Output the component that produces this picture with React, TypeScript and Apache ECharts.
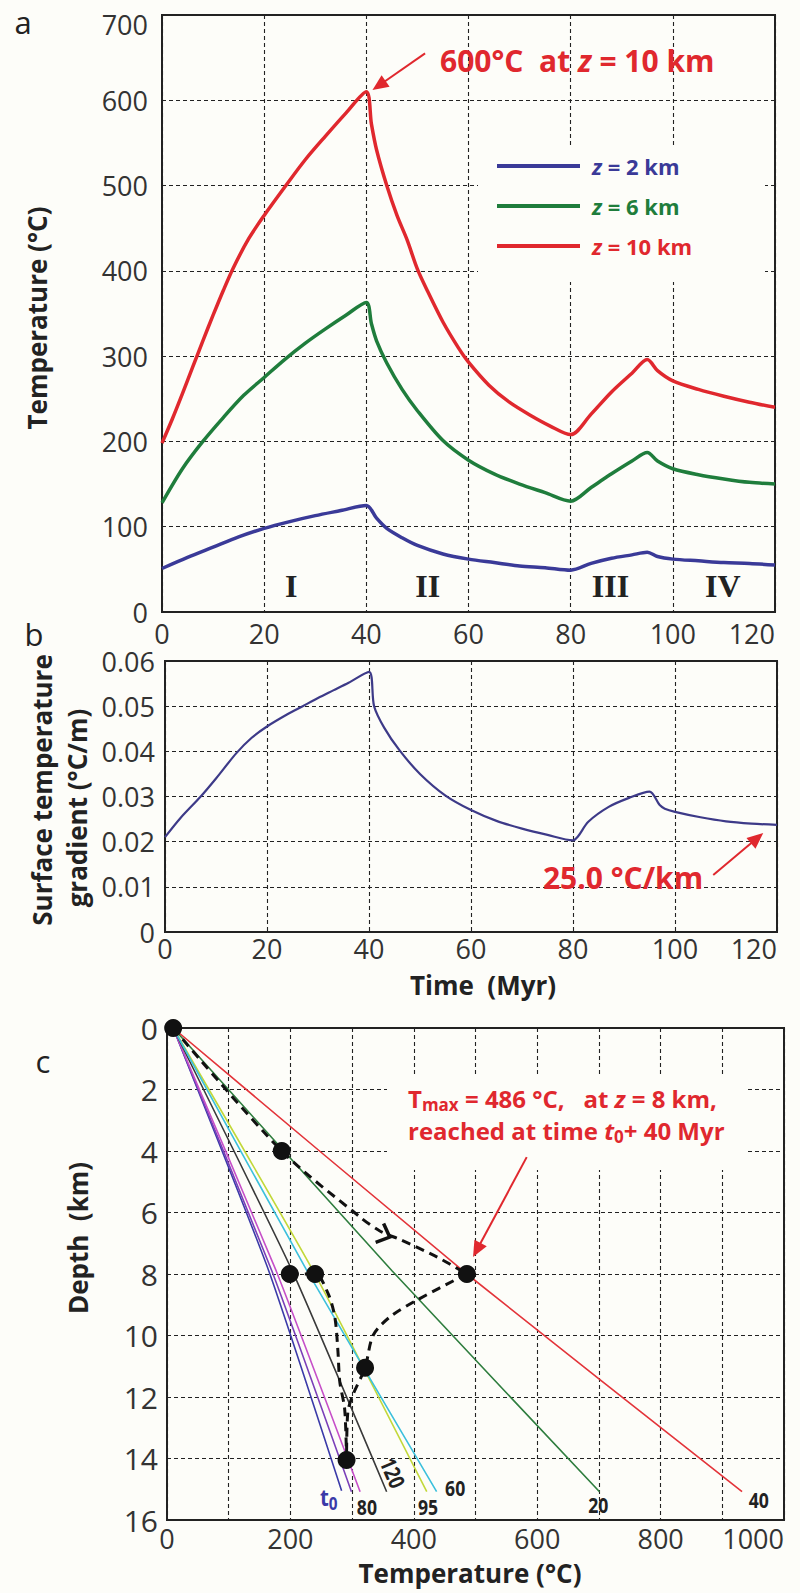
import React, { useEffect, useRef } from 'react';
import * as echarts from 'echarts';

const FONT = '"Open Sans", "Noto Sans", sans-serif';
const BG = '#fdfdf9';
const INK = '#222';
const RED = '#e0282e';
const GREEN = '#1f7d3c';
const BLUE = '#3a3a98';

// ---------- Panel a: temperature vs time ----------
const tempZ10: [number, number][] = [
  [0, 198], [2, 226], [4, 256], [6, 287], [8, 318], [10, 348], [12, 377], [14, 404], [17, 438], [20, 465],
  [24, 498], [28, 530], [32, 558], [36, 585], [40, 610], [41, 572], [42, 542], [44, 500], [46, 465], [48, 436],
  [50, 402], [52, 376], [55, 340], [58, 310], [60, 293], [64, 266], [68, 246], [72, 231], [76, 218], [80, 208],
  [84, 232], [88, 258], [92, 280], [95, 296], [97, 283], [100, 271], [105, 261], [110, 253], [115, 246], [120, 240],
];
const tempZ6: [number, number][] = [
  [0, 128], [4, 168], [8, 200], [12, 228], [16, 254], [20, 275], [24, 296], [28, 315], [32, 332], [36, 348],
  [40, 363], [41, 338], [42, 318], [44, 292], [47, 261], [50, 236], [55, 201], [60, 178], [65, 162], [70, 150],
  [75, 140], [80, 130], [84, 146], [88, 162], [92, 177], [95, 187], [97, 177], [100, 168], [105, 161], [110, 156],
  [115, 152], [120, 150],
];
const tempZ2: [number, number][] = [
  [0, 51], [5, 64], [10, 76], [15, 88], [20, 98], [25, 106], [30, 113], [35, 119], [40, 125], [42, 110],
  [44, 98], [47, 87], [50, 78], [55, 68], [60, 62], [65, 58], [70, 54], [75, 52], [80, 49], [84, 57],
  [88, 63], [92, 67], [95, 70], [97, 65], [100, 62], [105, 60], [110, 58], [115, 57], [120, 55],
];
const romanLabels = ['I', 'II', 'III', 'IV'];
const romanTimes = [25.3, 52, 87.8, 109.8];
const romanTemp = 31;

// ---------- Panel b: surface temperature gradient ----------
const gradient: [number, number][] = [
  [0, 0.021], [3, 0.0252], [7, 0.0300], [10, 0.0340], [14, 0.0396], [17, 0.0430], [20, 0.0455], [24, 0.0482],
  [27, 0.0500], [30, 0.0518], [33, 0.0535], [36, 0.0552], [40, 0.0576], [41, 0.0500], [43, 0.0452], [46, 0.0402],
  [50, 0.0350], [55, 0.0302], [60, 0.0270], [65, 0.0246], [70, 0.0229], [75, 0.0215], [80, 0.0203], [81, 0.0212],
  [83, 0.0244], [87, 0.0277], [91, 0.0297], [95, 0.0311], [97, 0.0281], [98, 0.0273], [100, 0.0266], [105, 0.0254],
  [110, 0.0245], [115, 0.0240], [120, 0.0237],
];

// ---------- Panel c: geotherms (temperature, depth) ----------
const geoT0: [number, number][] = [[10, 0], [165, 7.9], [283, 15.05]];
const geo100: [number, number][] = [[10, 0], [170, 7.9], [299, 15.08]];
const geo80: [number, number][] = [[10, 0], [177, 7.9], [313, 15.08]];
const geo120: [number, number][] = [[10, 0], [203, 7.9], [356, 15.08]];
const geo95: [number, number][] = [[10, 0], [237, 7.9], [421, 15.08]];
const geo60: [number, number][] = [[10, 0], [227, 7.9], [437, 15.08]];
const geo20: [number, number][] = [[10, 0], [365, 7.9], [701, 15.08]];
const geo40: [number, number][] = [[10, 0], [486, 8], [932, 15.08]];

const maxPathUpper: [number, number][] = [[10, 0], [186, 4], [313, 6.15], [345, 6.6], [380, 6.9], [438, 7.45], [486, 8]];
const maxPathLower: [number, number][] = [[486, 8], [405, 8.85], [361, 9.4], [334, 10], [321, 11.05], [302, 11.9], [293, 12.5], [291, 14.05]];
const maxPathInner: [number, number][] = [[199, 8], [240, 8], [261, 8.63], [272, 9.4], [277, 10.5], [280, 11.5], [288, 12.4], [291, 14.05]];
const maxDots: [number, number][] = [[10, 0], [186, 4], [199, 8], [240, 8], [486, 8], [321, 11.05], [291, 14.05]];
const chevronAt: [number, number][] = [[361, 6.8], [438, 7.45]];

const geoLabels = [
  { text: '80', at: [324, 15.58], color: INK, rot: 0 },
  { text: '120', at: [366, 14.47], color: INK, rot: -67 },
  { text: '95', at: [423, 15.58], color: INK, rot: 0 },
  { text: '60', at: [467, 14.96], color: INK, rot: 0 },
  { text: '20', at: [699, 15.5], color: INK, rot: 0 },
  { text: '40', at: [959, 15.35], color: INK, rot: 0 },
];
const t0LabelAt: [number, number] = [248, 15.25];

// arrows in data coordinates
const arrowA = { from: [51.5, 655], to: [41.2, 612] };
const arrowB = { from: [107.5, 0.0126], to: [117.3, 0.0219] };
const arrowC = { from: [583, 4.2], to: [496, 7.45] };

const gridLine = { show: true, lineStyle: { color: INK, width: 1.1, type: [4, 3] as any } };

function arrow(p0: number[], p1: number[], color: string, width: number, headLen: number, headW: number) {
  const dx = p1[0] - p0[0], dy = p1[1] - p0[1];
  const len = Math.hypot(dx, dy);
  const ux = dx / len, uy = dy / len;
  const bx = p1[0] - ux * headLen, by = p1[1] - uy * headLen;
  const px = -uy, py = ux;
  return [
    { type: 'line', z: 100, shape: { x1: p0[0], y1: p0[1], x2: bx + ux * 2, y2: by + uy * 2 }, style: { stroke: color, lineWidth: width } },
    { type: 'polygon', z: 100, shape: { points: [[p1[0], p1[1]], [bx + px * headW, by + py * headW], [bx - px * headW, by - py * headW]] }, style: { fill: color } },
  ];
}

function txt(x: number, y: number, text: string, o: any = {}) {
  const { rotation, z, scaleX, ...st } = o;
  return {
    type: 'text', x, y, z: z ?? 100, rotation: rotation ?? 0, scaleX: scaleX ?? 1,
    style: {
      text, fontFamily: FONT, fontSize: 26, fill: INK, align: 'center', verticalAlign: 'middle',
      textAlign: 'center', textVerticalAlign: 'middle', ...st,
    },
  };
}

export default function App() {
  const ref = useRef<HTMLDivElement>(null);
  useEffect(() => {
    if (!ref.current) return;
    const chart = echarts.init(ref.current, null, { renderer: 'svg' });
    const tickLabel = { color: '#333', fontFamily: FONT, fontSize: 27 };
    const option: any = {
      animation: false,
      backgroundColor: BG,
      grid: [
        { left: 162, top: 15, width: 613, height: 597, show: true, borderColor: INK, borderWidth: 2, backgroundColor: 'transparent' },
        { left: 165, top: 661, width: 612, height: 271, show: true, borderColor: INK, borderWidth: 2, backgroundColor: 'transparent' },
        { left: 167, top: 1028, width: 617, height: 492, show: true, borderColor: INK, borderWidth: 2, backgroundColor: 'transparent' },
      ],
      xAxis: [
        { type: 'value', gridIndex: 0, min: 0, max: 120, interval: 20, axisLine: { show: false }, axisTick: { show: false },
          splitLine: gridLine, axisLabel: { ...tickLabel, margin: 8, alignMaxLabel: 'right' } },
        { type: 'value', gridIndex: 1, min: 0, max: 120, interval: 20, axisLine: { show: false }, axisTick: { show: false },
          splitLine: gridLine, axisLabel: { ...tickLabel, margin: 3, alignMaxLabel: 'right' } },
        { type: 'value', gridIndex: 2, min: 0, max: 1000, interval: 100, axisLine: { show: false }, axisTick: { show: false },
          splitLine: gridLine, axisLabel: { ...tickLabel, margin: 5, alignMaxLabel: 'right', formatter: (v: number) => (v % 200 === 0 ? String(v) : '') } },
      ],
      yAxis: [
        { type: 'value', gridIndex: 0, min: 0, max: 700, interval: 100, axisLine: { show: false }, axisTick: { show: false },
          splitLine: gridLine,
          axisLabel: {
            ...tickLabel, margin: 14,
            formatter: (v: number) => (v === 700 ? '{top|700}' : String(v)),
            rich: { top: { ...tickLabel, padding: [18, 0, 0, 0] } },
          } },
        { type: 'value', gridIndex: 1, min: 0, max: 0.06, interval: 0.01, axisLine: { show: false }, axisTick: { show: false },
          splitLine: gridLine, axisLabel: { ...tickLabel, margin: 10 } },
        { type: 'value', gridIndex: 2, min: 0, max: 16, interval: 2, inverse: true, axisLine: { show: false }, axisTick: { show: false },
          splitLine: gridLine, axisLabel: { ...tickLabel, fontSize: 30, margin: 9 } },
      ],
      series: [
        { type: 'line', name: 'z = 10 km', xAxisIndex: 0, yAxisIndex: 0, data: tempZ10, showSymbol: false, smooth: 0.3, lineStyle: { color: RED, width: 3.5 }, z: 3 },
        { type: 'line', name: 'z = 6 km', xAxisIndex: 0, yAxisIndex: 0, data: tempZ6, showSymbol: false, smooth: 0.3, lineStyle: { color: GREEN, width: 3.5 }, z: 3 },
        { type: 'line', name: 'z = 2 km', xAxisIndex: 0, yAxisIndex: 0, data: tempZ2, showSymbol: false, smooth: 0.3, lineStyle: { color: BLUE, width: 3.5 }, z: 3 },
        { type: 'line', xAxisIndex: 1, yAxisIndex: 1, data: gradient, showSymbol: false, smooth: 0.3, lineStyle: { color: '#3d3a88', width: 2.2 }, z: 3 },
        ...[
          [geoT0, '#3a3aa8'], [geo100, '#7a3fb8'], [geo80, '#c64fc8'], [geo120, '#3a3a3a'],
          [geo95, '#c2d83a'], [geo60, '#3cc0dc'], [geo20, '#2e7d3e'], [geo40, '#e3343a'],
        ].map(([d, c]) => ({
          type: 'line', xAxisIndex: 2, yAxisIndex: 2, data: d, showSymbol: false, smooth: 0.15,
          lineStyle: { color: c, width: 1.6 }, z: 3,
        })),
        ...[maxPathUpper, maxPathLower, maxPathInner].map((d) => ({
          type: 'line', xAxisIndex: 2, yAxisIndex: 2, data: d, showSymbol: false, smooth: 0.3,
          lineStyle: { color: '#111', width: 3, type: [9, 6] }, z: 5,
        })),
        { type: 'scatter', xAxisIndex: 2, yAxisIndex: 2, data: maxDots, symbolSize: 18, itemStyle: { color: '#111', opacity: 1 }, clip: false, z: 6 },
      ],
    };
    chart.setOption(option);

    const px = (g: number, p: number[]) => chart.convertToPixel({ gridIndex: g } as any, p) as number[];
    const g: any[] = [];
    // background boxes behind legend and annotation (they interrupt the grid lines)
    g.push({ type: 'rect', z: 1, shape: { x: 478, y: 145, width: 287, height: 137 }, style: { fill: BG } });
    g.push({ type: 'rect', z: 1, shape: { x: 387, y: 1075, width: 358, height: 95 }, style: { fill: BG } });

    // panel letters
    g.push(txt(23, 22, 'a', { fontSize: 31 }));
    g.push(txt(34, 634, 'b', { fontSize: 31 }));
    g.push(txt(43, 1061, 'c', { fontSize: 31 }));

    // axis titles
    g.push(txt(37, 318, 'Temperature (°C)', { fontWeight: 'bold', rotation: Math.PI / 2 }));
    g.push(txt(42, 790, 'Surface temperature', { fontWeight: 'bold', rotation: Math.PI / 2 }));
    g.push(txt(77, 808, 'gradient (°C/m)', { fontWeight: 'bold', rotation: Math.PI / 2 }));
    g.push(txt(483, 985, 'Time  (Myr)', { fontWeight: 'bold' }));
    g.push(txt(78, 1238, 'Depth  (km)', { fontWeight: 'bold', rotation: Math.PI / 2 }));
    g.push(txt(470, 1573, 'Temperature (°C)', { fontWeight: 'bold' }));

    // legend
    const leg = [
      { y: 166, c: BLUE, t: '{i|z} = 2 km' },
      { y: 206, c: GREEN, t: '{i|z} = 6 km' },
      { y: 246, c: RED, t: '{i|z} = 10 km' },
    ];
    leg.forEach((l) => {
      g.push({ type: 'line', z: 100, shape: { x1: 497, y1: l.y, x2: 580, y2: l.y }, style: { stroke: l.c, lineWidth: 4 } });
      g.push(txt(592, l.y, l.t, {
        fontSize: 22, fontWeight: 'bold', fill: l.c, align: 'left', textAlign: 'left',
        rich: { i: { fontStyle: 'italic', fontWeight: 'bold', fontSize: 22, fontFamily: FONT, fill: l.c } },
      }));
    });

    // roman numerals
    romanLabels.forEach((r, i) => {
      const p = px(0, [romanTimes[i], romanTemp]);
      g.push(txt(p[0], p[1], r, { fontFamily: '"Liberation Serif", serif', fontWeight: 'bold', fontSize: 32 }));
    });

    // panel a annotation
    g.push(txt(440, 60, '600°C  at {i|z} = 10 km', {
      fontSize: 30, fontWeight: 'bold', fill: RED, align: 'left', textAlign: 'left',
      rich: { i: { fontStyle: 'italic', fontWeight: 'bold', fontSize: 30, fontFamily: FONT, fill: RED } },
    }));
    g.push(...arrow(px(0, arrowA.from), px(0, arrowA.to), RED, 2, 16, 7));

    // panel b annotation
    g.push(txt(623, 877, '25.0 °C/km', { fontSize: 30, fontWeight: 'bold', fill: RED }));
    g.push(...arrow(px(1, arrowB.from), px(1, arrowB.to), RED, 2, 16, 7));

    // panel c annotation
    const richC = {
      n: { fontSize: 24, fontWeight: 'bold', fontFamily: FONT, fill: RED, lineHeight: 30, verticalAlign: 'middle' },
      ni: { fontSize: 24, fontWeight: 'bold', fontStyle: 'italic', fontFamily: FONT, fill: RED, lineHeight: 30, verticalAlign: 'middle' },
      s: { fontSize: 17, fontWeight: 'bold', fontFamily: FONT, fill: RED, lineHeight: 17, verticalAlign: 'bottom' },
    };
    g.push(txt(408, 1098, '{n|T}{s|max}{n| = 486 °C,   at }{ni|z}{n| = 8 km,}', { align: 'left', textAlign: 'left', rich: richC }));
    g.push(txt(408, 1130, '{n|reached at time }{ni|t}{s|0}{n|+ 40 Myr}', { align: 'left', textAlign: 'left', rich: richC }));
    g.push(...arrow(px(2, arrowC.from), px(2, arrowC.to), RED, 2, 16, 7));

    // chevron on the dashed path
    {
      const a = px(2, chevronAt[0]);
      const b = px(2, chevronAt[1]);
      const ang = Math.atan2(b[1] - a[1], b[0] - a[0]);
      const L = 15, h = 0.75;
      const p1 = [a[0] - L * Math.cos(ang - h), a[1] - L * Math.sin(ang - h)];
      const p2 = [a[0] - L * Math.cos(ang + h), a[1] - L * Math.sin(ang + h)];
      g.push({ type: 'polyline', z: 100, shape: { points: [p1, a, p2] }, style: { stroke: '#111', lineWidth: 3.5, fill: null } });
    }

    // geotherm labels
    geoLabels.forEach((l) => {
      const p = px(2, l.at);
      g.push(txt(p[0], p[1], l.text, { fontSize: 22, fontWeight: 'bold', fill: l.color, scaleX: 0.8, rotation: (l.rot * Math.PI) / 180 }));
    });
    {
      const p = px(2, t0LabelAt);
      g.push(txt(p[0], p[1], '{t|t}{s|0}', {
        align: 'left', textAlign: 'left', scaleX: 0.85,
        rich: {
          t: { fontSize: 24, fontWeight: 'bold', fontFamily: FONT, fill: '#3a3aa8', lineHeight: 30, verticalAlign: 'middle' },
          s: { fontSize: 18, fontWeight: 'bold', fontFamily: FONT, fill: '#3a3aa8', lineHeight: 18, verticalAlign: 'bottom' },
        },
      }));
    }

    chart.setOption({ graphic: g });
    return () => chart.dispose();
  }, []);
  return <div ref={ref} style={{ position: 'absolute', left: 0, top: 0, width: 800, height: 1593 }} />;
}
